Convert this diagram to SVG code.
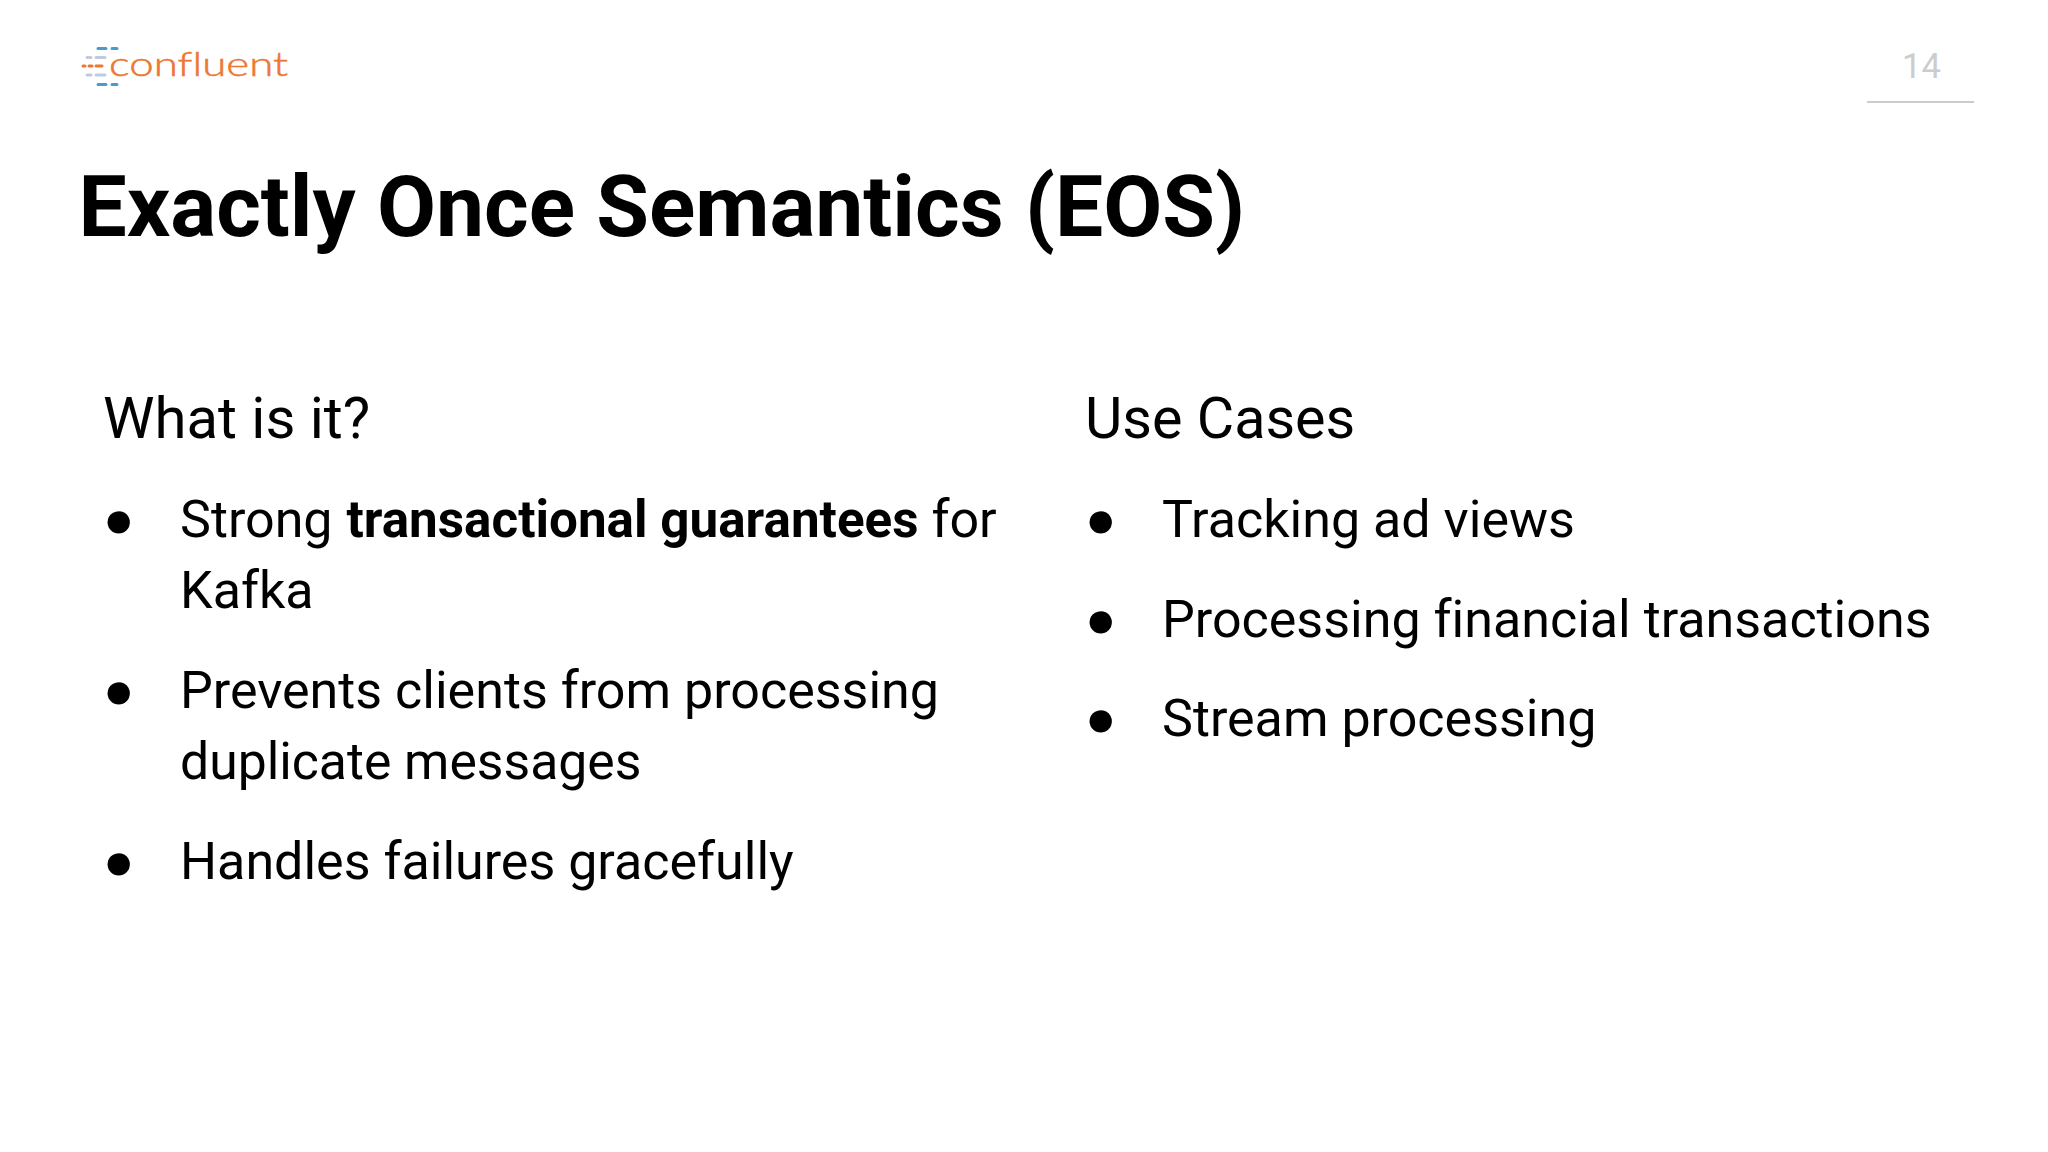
<svg xmlns="http://www.w3.org/2000/svg" width="2048" height="1152" viewBox="0 0 2048 1152">
<style>
text{font-family:Roboto,"Liberation Sans",sans-serif;fill:#000;font-variant-ligatures:none}
.b{font-size:52px}
.s{font-weight:700;font-size:51.2px}
.h{font-size:58px}
.dash{stroke-width:3;stroke-linecap:round;fill:none}
</style>
<rect width="2048" height="1152" fill="#fff"/>
<g id="logo">
<g class="dash" stroke="#4a9cc8"><path d="M98 48.5H106M112 48.5H117M98 84.5H106M112 84.5H117"/></g>
<g class="dash" stroke="#c0cbe0"><path d="M87 57.5H91M96 57.5H105M87 75H91M96 75H105"/></g>
<g class="dash" stroke="#ee7733"><path d="M83 66H85M89 66H92M96 66H102"/></g>
<text x="109" y="76" font-size="33" textLength="179" lengthAdjust="spacingAndGlyphs" style="fill:#ee7733;stroke:#ee7733;stroke-width:.5;font-family:Lato,sans-serif;font-weight:300">confluent</text>
</g>
<g id="page-number">
<text x="1902" y="78" font-size="34.5" style="fill:#ccc">14</text>
<rect x="1880" y="101" width="107" height="2" fill="#ccc" transform="translate(-13 0)"/>
</g>
<text id="title" x="78.5" y="236" font-size="85.7" font-weight="700">Exactly Once Semantics (EOS)</text>
<g id="what-is-it">
<text class="h" x="103" y="437.5">What is it?</text>
<text class="b" x="103" y="537">●</text>
<text class="b" x="180" y="537">Strong <tspan class="s" dx="1">transactional guarantees</tspan> for</text>
<text class="b" x="180" y="608">Kafka</text>
<text class="b" x="103" y="708">●</text>
<text class="b" x="180" y="708">Prevents clients from processing</text>
<text class="b" x="180" y="779" style="font-size:51.7px">duplicate messages</text>
<text class="b" x="103" y="879">●</text>
<text class="b" x="180" y="879">Handles failures gracefully</text>
</g>
<g id="use-cases">
<text class="h" x="1085" y="437.5" style="font-size:57.5px">Use Cases</text>
<text class="b" x="1085" y="537">●</text>
<text class="b" x="1162" y="537">Tracking ad views</text>
<text class="b" x="1085" y="637">●</text>
<text class="b" x="1162" y="637">Processing financial transactions</text>
<text class="b" x="1085" y="736">●</text>
<text class="b" x="1162" y="736">Stream processing</text>
</g>
</svg>
